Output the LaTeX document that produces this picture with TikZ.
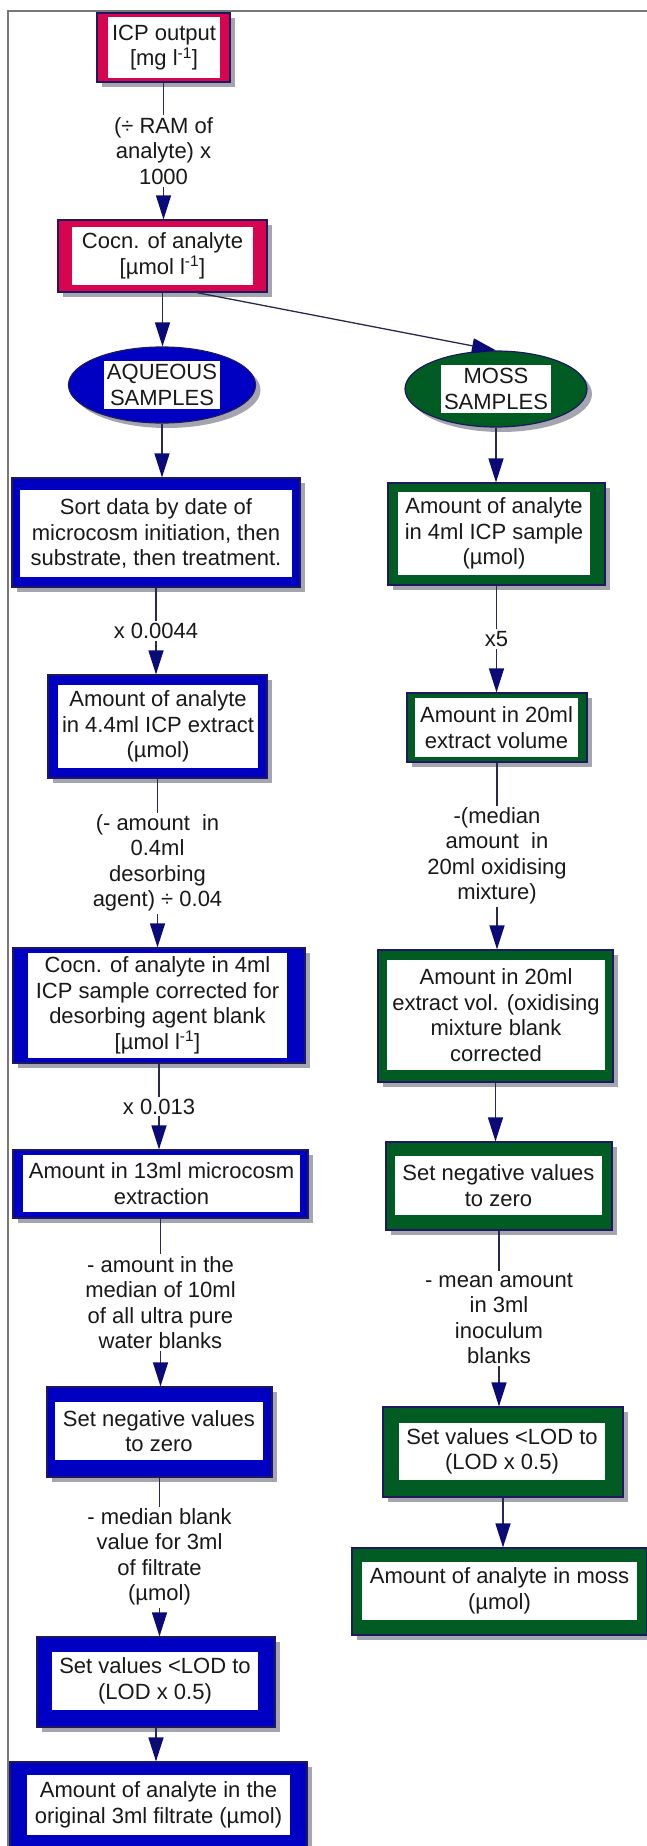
\documentclass[tikz,border=0pt]{standalone}
\usepackage{fontspec}
\setmainfont{Liberation Sans}
\usetikzlibrary{arrows.meta,shapes.geometric,shadows,fit}
\definecolor{crim}{RGB}{215,5,80}
\definecolor{bl}{RGB}{0,0,195}
\definecolor{gr}{RGB}{0,92,35}
\definecolor{navyline}{RGB}{30,25,95}
\definecolor{arrowblue}{RGB}{10,10,120}
\definecolor{connline}{RGB}{40,40,80}
\definecolor{shadowgray}{RGB}{165,165,175}
\definecolor{framegray}{RGB}{120,120,120}
\definecolor{txtc}{RGB}{25,25,25}
\newcommand\fbx[5]{%
  \node[#2, fit={#3}] (#1) {};
  \node[inwhite, fit={#4}] (#1w) {};
  \node[txt] (#1t) at (#1w.center) {#5};
}
\begin{document}
\begin{tikzpicture}[x=1pt,y=-1pt,
  every node/.style={font=\fontsize{22}{25.5}\selectfont, text=txtc},
  outerbox/.style={draw=navyline, line width=1.2pt, inner sep=0pt,
    drop shadow={shadow xshift=5pt, shadow yshift=-5pt, fill=shadowgray, opacity=1}},
  redbox/.style={outerbox, fill=crim},
  bluebox/.style={outerbox, fill=bl},
  greenbox/.style={outerbox, fill=gr},
  inwhite/.style={fill=white, inner sep=0pt},
  txt/.style={align=center, inner sep=0pt},
  ell/.style={ellipse, draw=navyline, line width=1.2pt, inner sep=0pt,
    drop shadow={shadow xshift=5pt, shadow yshift=-5pt, fill=shadowgray, opacity=1}},
  ellwhite/.style={fill=white, inner sep=3pt, align=center},
  conn/.style={draw=connline, line width=1.3pt, -{Triangle[length=24pt,width=15pt,color=arrowblue]}},
  lbl/.style={fill=white, inner sep=2pt, align=center}
]
\useasboundingbox (0,0) rectangle (647,1846);
% frame
\coordinate (fa) at (647,11);
\coordinate (fb) at (8,11);
\coordinate (fc) at (8,1846);
\draw[framegray, line width=2pt] (fa) -- (fb) -- (fc);

% top boxes
\fbx{icp}{redbox}{(97,13) (230,82)}{(108,17) (220,78)}{ICP output\\{}[mg l\textsuperscript{-1}]}
\fbx{cocn}{redbox}{(58,220) (267,292)}{(72,227) (253,285)}{Cocn. of analyte\\{}[µmol l\textsuperscript{-1}]}

% ellipses
\node[ell, fill=bl, minimum width=187pt, minimum height=76pt] (aq) at (162,385) {};
\node[ellwhite] (aqt) at (aq.center) {AQUEOUS\\SAMPLES};
\node[ell, fill=gr, minimum width=182pt, minimum height=76pt] (moss) at (496,389) {};
\node[ellwhite] (mosst) at (moss.center) {MOSS\\SAMPLES};

% left column
\fbx{sort}{bluebox}{(12,478) (300,587)}{(20,490) (292,577)}{Sort data by date of\\microcosm initiation, then\\substrate, then treatment.}
\fbx{amt}{bluebox}{(48,675) (267,778)}{(58,685) (258,768)}{Amount of analyte\\in 4.4ml ICP extract\\(µmol)}
\fbx{corr}{bluebox}{(13,948) (305,1063)}{(28,953) (287,1058)}{Cocn. of analyte in 4ml\\ICP sample corrected for\\desorbing agent blank\\{}[µmol l\textsuperscript{-1}]}
\fbx{micro}{bluebox}{(13,1150) (308,1218)}{(23,1155) (300,1212)}{Amount in 13ml microcosm\\extraction}
\fbx{negl}{bluebox}{(47,1387) (272,1477)}{(55,1402) (263,1460)}{Set negative values\\to zero}
\fbx{lodl}{bluebox}{(37,1637) (275,1727)}{(52,1652) (258,1710)}{Set values <LOD to\\(LOD x 0.5)}
\fbx{finl}{bluebox}{(10,1762) (307,1872)}{(27,1775) (290,1835)}{Amount of analyte in the\\original 3ml filtrate (µmol)}

% right column
\fbx{icpm}{greenbox}{(388,483) (605,585)}{(398,492) (590,575)}{Amount of analyte\\in 4ml ICP sample\\(µmol)}
\fbx{ext}{greenbox}{(407,693) (587,762)}{(415,698) (578,757)}{Amount in 20ml\\extract volume}
\fbx{oxc}{greenbox}{(378,950) (613,1082)}{(387,960) (605,1070)}{Amount in 20ml\\extract vol. (oxidising\\mixture blank\\corrected}
\fbx{negr}{greenbox}{(386,1142) (612,1230)}{(395,1156) (602,1215)}{Set negative values\\to zero}
\fbx{lodr}{greenbox}{(383,1407) (623,1497)}{(399,1423) (605,1480)}{Set values <LOD to\\(LOD x 0.5)}
\fbx{finr}{greenbox}{(352,1548) (647,1635)}{(362,1562) (637,1620)}{Amount of analyte in moss\\(µmol)}

% connectors
\draw[conn] (icp.south) -- node[lbl] (l1) {(÷ RAM of\\analyte) x\\1000} (icp.south |- cocn.north);
\draw[conn] (cocn.south) -- (cocn.south |- aq.north);
\draw[conn] (cocn.-47) -- (moss.north);
\draw[conn] (aq.south) -- (aq.south |- sort.north);
\draw[conn] (sort.south) -- node[lbl] (l2) {x 0.0044} (sort.south |- amt.north);
\draw[conn] (amt.south) -- node[lbl] (l3) {(- amount\ \ in\\0.4ml\\desorbing\\agent) ÷ 0.04} (amt.south |- corr.north);
\draw[conn] (corr.south) -- node[lbl] (l4) {x 0.013} (corr.south |- micro.north);
\draw[conn] (micro.south) -- node[lbl] (l5) {- amount in the\\median of 10ml\\of all ultra pure\\water blanks} (micro.south |- negl.north);
\draw[conn] (negl.south) -- node[lbl] (l6) {- median blank\\value for 3ml\\of filtrate\\(µmol)} (negl.south |- lodl.north);
\draw[conn] (lodl.south) -- (lodl.south |- finl.north);

\draw[conn] (moss.south) -- (moss.south |- icpm.north);
\draw[conn] (icpm.south) -- node[lbl] (r1) {x5} (icpm.south |- ext.north);
\draw[conn] (ext.south) -- node[lbl] (r2) {-(median\\amount\ \ in\\20ml oxidising\\mixture)} (ext.south |- oxc.north);
\draw[conn] (oxc.south) -- (oxc.south |- negr.north);
\draw[conn] (negr.south) -- node[lbl] (r3) {- mean amount\\in 3ml\\inoculum\\blanks} (negr.south |- lodr.north);
\draw[conn] (lodr.south) -- (lodr.south |- finr.north);
\end{tikzpicture}
\end{document}
